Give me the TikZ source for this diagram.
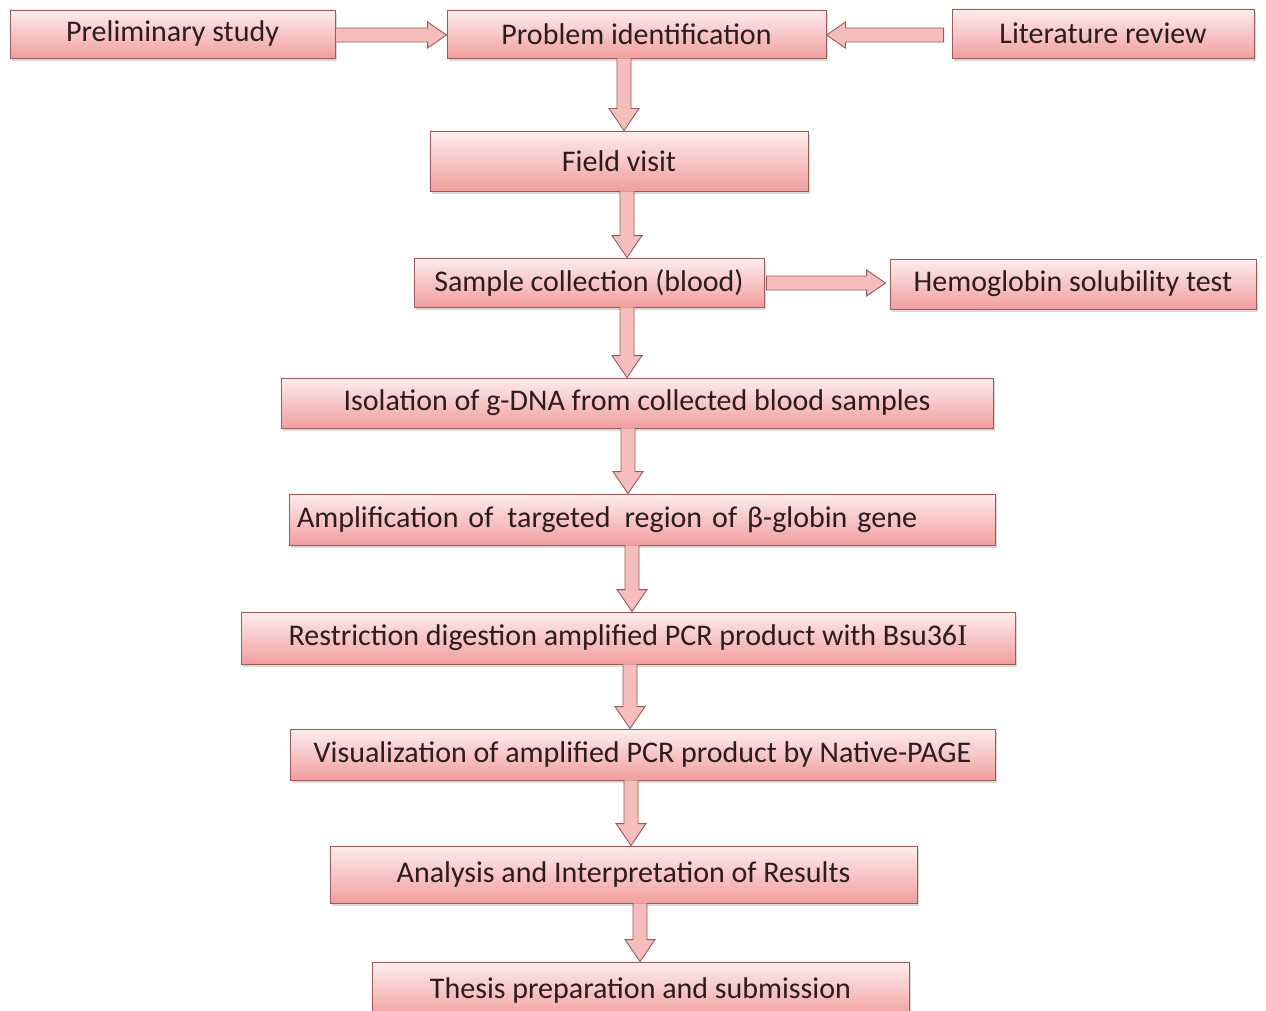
\documentclass[tikz,border=0pt]{standalone}
\usepackage{fontspec}
\setmainfont{Carlito}
\newfontfamily\serifI{Liberation Serif}
\usetikzlibrary{shadows,calc}
\definecolor{bordc}{HTML}{9A5A5A}
\definecolor{topc}{HTML}{FDEDED}
\definecolor{botc}{HTML}{F29E9E}
\definecolor{txtc}{HTML}{2E1C1C}
\definecolor{arrfill}{HTML}{F6BDBD}
\tikzset{
  flowbox/.style={draw=bordc, line width=0.9pt, top color=topc, bottom color=botc,
    text=txtc, font=\fontsize{30}{34}\selectfont, inner sep=0pt,
    drop shadow={opacity=0.3, shadow xshift=2pt, shadow yshift=-3pt}},
  barrow/.style={draw=bordc, line width=0.9pt, fill=arrfill, line join=miter}
}
% vertical block arrow: from node #1 (south) to node #2 (north) at x=#3
\newcommand\downarr[3]{%
  \draw[barrow] let \p1=(#1.south), \p2=(#2.north) in
    (#3pt-7pt,\y1) -- (#3pt-7pt,\y2+22pt) -- (#3pt-15pt,\y2+22pt) -- (#3pt,\y2)
    -- (#3pt+15pt,\y2+22pt) -- (#3pt+7pt,\y2+22pt) -- (#3pt+7pt,\y1);}
% right block arrow: node #1 (east) to node #2 (west) at y=#3, gaps #4 (tail) #5 (tip)
\newcommand\rightarr[5]{%
  \draw[barrow] let \p1=(#1.east), \p2=(#2.west) in
    (\x1+#4pt,-#3pt+7pt) -- (\x2-#5pt-19pt,-#3pt+7pt) -- (\x2-#5pt-19pt,-#3pt+13pt)
    -- (\x2-#5pt,-#3pt) -- (\x2-#5pt-19pt,-#3pt-13pt) -- (\x2-#5pt-19pt,-#3pt-7pt)
    -- (\x1+#4pt,-#3pt-7pt) -- cycle;}
% left block arrow: node #1 (west) to node #2 (east) at y=#3, gaps #4 (tail) #5 (tip)
\newcommand\leftarr[5]{%
  \draw[barrow] let \p1=(#1.west), \p2=(#2.east) in
    (\x1-#4pt,-#3pt+7pt) -- (\x2+#5pt+19pt,-#3pt+7pt) -- (\x2+#5pt+19pt,-#3pt+13pt)
    -- (\x2+#5pt,-#3pt) -- (\x2+#5pt+19pt,-#3pt-13pt) -- (\x2+#5pt+19pt,-#3pt-7pt)
    -- (\x1-#4pt,-#3pt-7pt) -- cycle;}
\begin{document}
\begin{tikzpicture}[x=1pt,y=-1pt]
\useasboundingbox (0,0) rectangle (1266,1011);
\fill[white] (0,0) rectangle (1266,1011);
\clip (0,0) rectangle (1266,1011);

\node[flowbox, minimum width=325pt, minimum height=48pt] (prelim) at (172.5,34) {Preliminary study};
\node[flowbox, minimum width=379pt, minimum height=48pt] (problem) at (636.5,34) {Problem identification};
\node[flowbox, minimum width=302pt, minimum height=49pt] (lit) at (1103,33.5) {Literature review};
\node[flowbox, minimum width=378pt, minimum height=60pt] (field) at (619,161) {Field visit};
\node[flowbox, minimum width=350pt, minimum height=49pt] (sample) at (589,282.5) {Sample collection (blood)};
\node[flowbox, minimum width=366pt, minimum height=50pt] (hemo) at (1073,284) {Hemoglobin solubility test};
\node[flowbox, minimum width=712pt, minimum height=50pt] (iso) at (637,403) {Isolation of g-DNA from collected blood samples};
\node[flowbox, minimum width=706pt, minimum height=51pt, text width=690pt, align=left] (amp) at (642,519.5) {Amplification of\hspace{4pt} targeted\hspace{4pt} region of β-globin gene};
\node[flowbox, minimum width=774pt, minimum height=52pt] (restr) at (628,638) {Restriction digestion amplified PCR product with Bsu36{\serifI I}};
\node[flowbox, minimum width=705pt, minimum height=51pt] (vis) at (642.5,754.5) {Visualization of amplified PCR product by Native-PAGE};
\node[flowbox, minimum width=587pt, minimum height=57pt] (ana) at (623.5,874.5) {Analysis and Interpretation of Results};
\node[flowbox, minimum width=537pt, minimum height=56pt] (thesis) at (640.5,990) {Thesis preparation and submission};

\rightarr{prelim}{problem}{35}{0}{0}
\leftarr{lit}{problem}{35}{8}{0}
\rightarr{sample}{hemo}{283}{2}{4}

\downarr{problem}{field}{624}
\downarr{field}{sample}{627}
\downarr{sample}{iso}{627}
\downarr{iso}{amp}{628}
\downarr{amp}{restr}{632}
\downarr{restr}{vis}{630}
\downarr{vis}{ana}{631}
\downarr{ana}{thesis}{640}
\end{tikzpicture}
\end{document}
